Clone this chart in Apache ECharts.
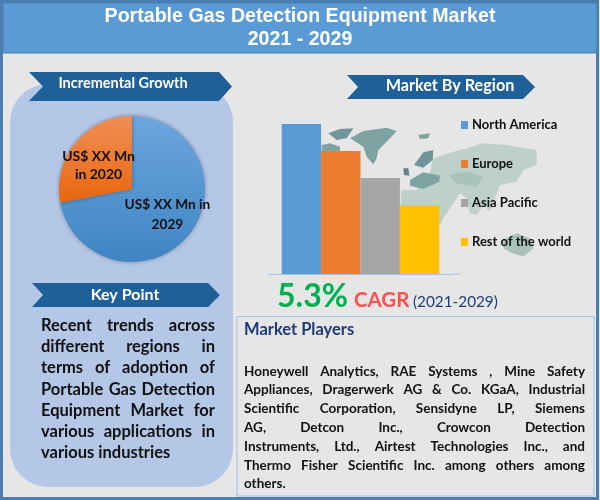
<!DOCTYPE html>
<html>
<head>
<meta charset="utf-8">
<title>Portable Gas Detection Equipment Market</title>
<script src="https://cdn.jsdelivr.net/npm/echarts@6/dist/echarts.min.js"></script>
<style>
html, body { margin: 0; padding: 0; background: #e6e6e6; }
#chart { width: 600px; height: 500px; }
</style>
</head>
<body>
<div id="chart"></div>
<script>
// data
var titleLines = ['Portable Gas Detection Equipment Market', '2021 - 2029'];
var pieNames = ['US$ XX Mn in\n2029', 'US$ XX Mn\nin 2020'];
var pieValues = [72, 28];
var regions = ['North America', 'Europe', 'Asia Pacific', 'Rest of the world'];
var regionValues = [100, 82, 64, 45.5];
var regionColors = ['#5b9bd5', '#ed7d31', '#a5a5a5', '#ffc000'];
var keyPointLines = [
    'Recent trends across',
    'different regions in',
    'terms of adoption of',
    'Portable Gas Detection',
    'Equipment Market for',
    'various applications in',
    'various industries'
];
var playerLines = [
    'Honeywell Analytics, RAE Systems , Mine Safety',
    'Appliances, Dragerwerk AG & Co. KGaA, Industrial',
    'Scientific Corporation, Sensidyne LP, Siemens',
    'AG, Detcon Inc., Crowcon Detection',
    'Instruments, Ltd., Airtest Technologies Inc., and',
    'Thermo Fisher Scientific Inc. among others among',
    'others.'
];

var bodyFont = 'Lato, "Noto Sans", sans-serif';
var ribbonColor = '#1f6099';
var measure = document.createElement('canvas').getContext('2d');

// ribbon shape: notch on the left, point on the right
function ribbon(x0, x1, y0, y1, notch, tip) {
    return {
        type: 'polygon',
        z: 3,
        shape: { points: [[x0, y0], [x1 - tip, y0], [x1, (y0 + y1) / 2], [x1 - tip, y1], [x0, y1], [x0 + notch, (y0 + y1) / 2]] },
        style: { fill: ribbonColor }
    };
}

function label(text, x, y, size, color, weight, align, family) {
    return {
        type: 'text',
        z: 5,
        x: x,
        y: y,
        style: {
            text: text,
            fill: color,
            font: (weight || 'bold') + ' ' + size + 'px ' + (family || bodyFont),
            textAlign: align || 'left',
            textVerticalAlign: 'middle'
        }
    };
}

// the reference text is justified, so every word is placed on its own
function justified(lines, x0, x1, yList, size, color) {
    var out = [];
    measure.font = 'bold ' + size + 'px ' + bodyFont;
    lines.forEach(function (line, i) {
        var words = line.split(' ');
        var used = 0;
        words.forEach(function (w) { used += measure.measureText(w).width; });
        var last = i === lines.length - 1;
        var gap = last ? measure.measureText(' ').width : (x1 - x0 - used) / (words.length - 1);
        var x = x0;
        words.forEach(function (w) {
            out.push(label(w, x, yList[i], size, color));
            x += measure.measureText(w).width + gap;
        });
    });
    return out;
}

// faded world map behind the bars, outline points in crop pixels
function land(points, fill) {
    return {
        type: 'polygon',
        z: 1,
        shape: {
            points: points.map(function (p) { return [320 + p[0] / 3, 115 + p[1] / 3]; })
        },
        style: { fill: fill }
    };
}

var mapShapes = [
    land([[340, 130], [400, 110], [440, 100], [490, 85], [560, 90], [650, 105], [650, 150], [610, 165], [590, 200], [540, 210], [520, 260], [510, 290], [490, 270], [470, 300], [450, 295], [440, 250], [420, 235], [370, 310], [360, 330], [345, 270], [290, 225], [330, 170]], '#bdd0ca'),
    land([[245, 225], [300, 225], [360, 245], [360, 290], [240, 290]], '#bdd0ca'),
    land([[550, 375], [590, 355], [630, 370], [640, 400], [610, 425], [570, 412], [550, 400]], '#a9c2bb'),
    land([[90, 70], [130, 48], [200, 38], [230, 48], [205, 75], [175, 105], [170, 130], [160, 148], [140, 125], [130, 95]], '#7fa3a3'),
    land([[25, 55], [60, 42], [100, 40], [80, 70], [50, 75]], '#6f9499'),
    land([[5, 90], [30, 85], [60, 95], [60, 108], [5, 108]], '#7fa3a3'),
    land([[282, 150], [310, 112], [340, 105], [338, 135], [310, 158]], '#6f9499'),
    land([[270, 195], [310, 172], [360, 182], [358, 200], [310, 222], [270, 212]], '#7fa3a3'),
    land([[385, 180], [440, 170], [490, 185], [470, 215], [410, 205]], '#a9c2bb'),
    land([[250, 160], [265, 160], [268, 182], [252, 180]], '#5d8489'),
    land([[295, 60], [330, 55], [325, 70], [300, 72]], '#7fa3a3')
];

var keyY = [326, 347, 368, 390, 411, 432, 453];
var playerY = [372, 390, 409, 428, 447, 466, 484];

var graphics = [
    // frame and header
    { type: 'rect', z: 0, shape: { x: 1.5, y: 1.5, width: 596, height: 497 }, style: { fill: '#e6e6e6', stroke: '#4a7eb0', lineWidth: 3 } },
    { type: 'rect', z: 0, shape: { x: 3, y: 3, width: 594, height: 50 }, style: { fill: '#5b9bd5', stroke: '#4a7eb0', lineWidth: 1 } },
    // left panel
    { type: 'rect', z: 0, shape: { x: 10, y: 84, width: 223, height: 403, r: 38 }, style: { fill: '#b4c7e7' } },
    ribbon(29, 232, 72, 101, 14, 13),
    ribbon(347, 535, 75, 99, 11, 12),
    ribbon(32, 220, 283, 307, 11, 12),
    label(titleLines[0], 300, 17, 19.6, '#ffffff', 'bold', 'center', '"Liberation Sans", Arial, sans-serif'),
    label(titleLines[1], 300, 40, 19.6, '#ffffff', 'bold', 'center', '"Liberation Sans", Arial, sans-serif'),
    label('Incremental Growth', 123, 83, 14.5, '#ffffff', 'bold', 'center'),
    label('Market By Region', 450, 86, 16.2, '#ffffff', 'bold', 'center'),
    label('Key Point', 125, 295, 16, '#ffffff', 'bold', 'center'),
    // growth rate line
    label('5.3%', 277, 297, 32, '#00b050', 'bold'),
    label('CAGR', 354, 300, 20.5, '#ff5050', 'bold'),
    label('(2021-2029)', 413, 302, 15.3, '#1f3a7a', 'normal'),
    // market players box
    { type: 'rect', z: 0, shape: { x: 237, y: 316.5, width: 357, height: 179.5 }, style: { fill: '#e6e6e6', stroke: '#9dc3e6', lineWidth: 1 } },
    label('Market Players', 244, 330, 16.5, '#1f3a7a', 'bold'),
    // baseline runs a little further than the chart band
    { type: 'line', z: 3, shape: { x1: 452, y1: 274, x2: 460, y2: 274 }, style: { stroke: '#9dc3e6', lineWidth: 1 } }
].concat(mapShapes, justified(keyPointLines, 41, 215, keyY, 16.5, '#111111'), justified(playerLines, 244, 585, playerY, 13.5, '#111111'));

function vertical(top, bottom) {
    return new echarts.graphic.LinearGradient(0, 0, 0, 1, [
        { offset: 0, color: top },
        { offset: 1, color: bottom }
    ]);
}

var barSeries = regions.map(function (name, i) {
    return {
        name: name,
        type: 'bar',
        barWidth: 39.4,
        barGap: 0,
        itemStyle: { color: regionColors[i] },
        data: [regionValues[i]]
    };
});

var chart = echarts.init(document.getElementById('chart'));
chart.setOption({
    animation: false,
    graphic: { elements: graphics },
    legend: {
        orient: 'vertical',
        left: 461,
        top: 118,
        padding: 0,
        itemWidth: 7,
        itemHeight: 8,
        itemGap: 25,
        icon: 'rect',
        selectedMode: false,
        data: regions,
        textStyle: { fontFamily: bodyFont, fontWeight: 'bold', fontSize: 13, color: '#111111', padding: [0, 0, 0, -1], lineHeight: 14 }
    },
    grid: { left: 269, top: 124, width: 183, height: 150 },
    xAxis: {
        type: 'category',
        data: [''],
        axisTick: { show: false },
        axisLabel: { show: false },
        axisLine: { lineStyle: { color: '#9dc3e6', width: 1 } }
    },
    yAxis: { type: 'value', min: 0, max: 100, show: false, splitLine: { show: false } },
    series: barSeries.concat([{
        type: 'pie',
        center: [132, 189],
        radius: [0, 73],
        startAngle: 90,
        clockwise: true,
        silent: true,
        data: [
            { name: pieNames[0], value: pieValues[0], itemStyle: { color: vertical('#6da6dd', '#3f85c4') }, label: { offset: [5, 0], fontSize: 13.7, lineHeight: 20 } },
            { name: pieNames[1], value: pieValues[1], itemStyle: { color: vertical('#f08f55', '#e8660f') }, label: { offset: [-3, 2] } }
        ],
        itemStyle: { shadowBlur: 4, shadowColor: 'rgba(0,0,0,0.35)', borderWidth: 0 },
        label: { position: 'inside', formatter: '{b}', color: '#111111', fontFamily: bodyFont, fontWeight: 'bold', fontSize: 14, lineHeight: 18 },
        labelLine: { show: false }
    }])
});
</script>
</body>
</html>
